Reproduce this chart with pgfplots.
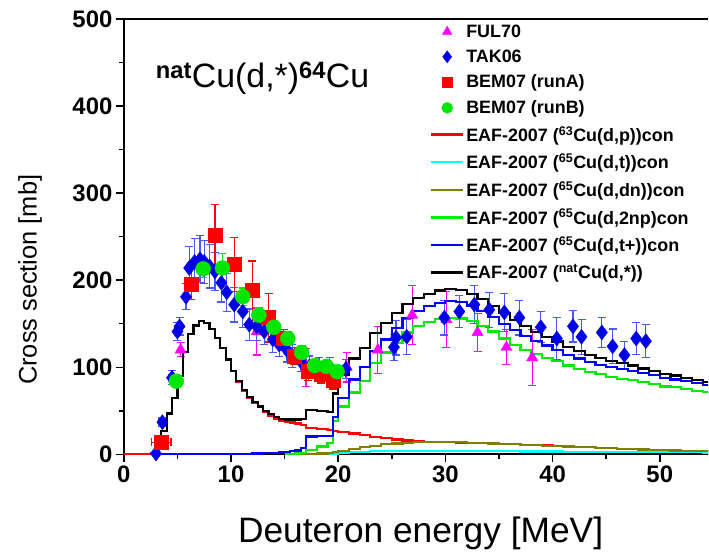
\documentclass[border=0pt]{standalone}
\usepackage{fontspec}
\setmainfont{Liberation Sans}
\usepackage{pgfplots}
\pgfplotsset{compat=1.18}

\definecolor{fulcol}{RGB}{255,0,255}
\definecolor{takcol}{RGB}{0,0,230}
\definecolor{takerr}{RGB}{70,90,255}
\definecolor{bemA}{RGB}{255,0,0}
\definecolor{bemB}{RGB}{0,230,0}
\definecolor{eafred}{RGB}{255,0,0}
\definecolor{eafcyan}{RGB}{0,255,255}
\definecolor{eafolive}{RGB}{128,128,0}
\definecolor{eafgreen}{RGB}{0,235,0}
\definecolor{eafblue}{RGB}{0,0,255}

% legend image with a smaller marker, for the data sets
\pgfplotsset{
    smallmark/.style={legend image code/.code={%
        \draw[##1, mark size=#1] plot coordinates {(16bp,0bp)};}},
}

\begin{document}
\begin{tikzpicture}
\begin{axis}[
    scale only axis,
    width=585bp, height=436bp,
    xmin=0, xmax=54.5,
    ymin=0, ymax=500,
    axis x line*=box, axis y line*=left,
    xtick={0,10,...,50}, ytick={0,100,...,500},
    minor x tick num=1, minor y tick num=1,
    xtick pos=left, ytick pos=left,
    tick align=outside,
    major tick length=8bp, minor tick length=5bp,
    every tick/.style={black, line width=1.5bp},
    axis line style={line width=2bp},
    tick label style={font=\fontsize{24}{24}\selectfont\bfseries},
    /pgf/number format/assume math mode=true,
    xlabel={Deuteron energy [MeV]},
    ylabel={Cross section [mb]},
    xlabel style={font=\fontsize{35.5}{35.5}\selectfont, at={(rel axis cs:0.508,-0.2018)}, anchor=base},
    ylabel style={font=\fontsize{25.5}{25.5}\selectfont, at={(rel axis cs:-0.1607,0.401)}, anchor=center},
    legend cell align=left,
    legend style={draw=none, fill=none, at={(rel axis cs:0.524,0.992)}, anchor=north west,
        inner sep=0pt, font=\fontsize{18}{18}\selectfont\bfseries, row sep=7.2bp},
    legend image code/.code={\draw[#1] plot coordinates {(0bp,0bp) (32bp,0bp)};},
]

% FUL70
\addplot[only marks, mark=triangle*, mark size=6.5bp, color=fulcol, smallmark=5.5bp,
    error bars/.cd, y dir=both, y explicit,
    error bar style={line width=1.2bp},
    error mark options={rotate=90, mark size=4bp, line width=1.2bp}]
coordinates {
(5.3,120) +- (0,8)
(12.4,141) +- (0,27)
(17.0,100) +- (0,22)
(20.8,100) +- (0,17)
(23.7,120) +- (0,27)
(26.9,160) +- (0,34)
(30.1,155) +- (0,32)
(33.0,140) +- (0,22)
(35.7,123) +- (0,20)
(38.1,111) +- (0,32)
};
\addlegendentry{FUL70}

% TAK06
\addplot[only marks, mark=diamond*, mark size=7.5bp, color=takcol, smallmark=6bp,
    error bars/.cd, y dir=both, y explicit, x dir=both, x explicit,
    error bar style={line width=1.2bp, color=takerr},
    error mark options={rotate=90, mark size=4bp, line width=1.2bp, color=takerr}]
coordinates {
(3.0,1) +- (0,0)
(3.6,37) +- (0.4,5)
(4.5,88) +- (0.3,8)
(5.0,141) +- (0,10)
(5.2,147) +- (0,10)
(5.8,181) +- (0,15)
(6.1,214) +- (0,25)
(6.6,221) +- (0,27)
(7.1,224) +- (0,27)
(7.5,221) +- (0,25)
(8.0,216) +- (0,25)
(8.5,210) +- (0,22)
(9.1,197) +- (0,22)
(9.6,186) +- (0,22)
(10.3,172) +- (0,20)
(11.1,164) +- (0,18)
(11.7,149) +- (0,18)
(12.4,147) +- (0,16)
(13.1,141) +- (0,15)
(13.9,132) +- (0,15)
(14.5,126) +- (0,14)
(15.2,120) +- (0,14)
(15.7,113) +- (0,13)
(16.5,107) +- (0,12)
(17.3,101) +- (0,12)
(18.2,100) +- (0,11)
(19.2,100) +- (0,11)
(20.7,98) +- (0,11)
(25.2,123) +- (0,15)
(25.4,134) +- (0,20)
(26.4,135) +- (0,20)
(29.9,157) +- (0,20)
(31.3,164) +- (0,18)
(32.7,172) +- (0,22)
(34.1,166) +- (0,20)
(35.5,163) +- (0,22)
(36.9,157) +- (0,20)
(38.9,146) +- (0,18)
(40.4,133) +- (0,24)
(41.9,147) +- (0,18)
(42.7,135) +- (0,20)
(44.6,140) +- (0,17)
(45.6,124) +- (0,20)
(46.7,114) +- (0,16)
(47.8,133) +- (0,18)
(48.7,130) +- (0,19)
};
\addlegendentry{TAK06}

% BEM07 runA
\addplot[only marks, mark=square*, mark size=7bp, color=bemA, smallmark=5bp,
    error bars/.cd, y dir=both, y explicit, x dir=both, x explicit,
    error bar style={line width=1.2bp},
    error mark options={rotate=90, mark size=4bp, line width=1.2bp}]
coordinates {
(3.5,14) +- (0.9,5)
(6.3,195) +- (0,17)
(8.5,252) +- (0,35)
(10.3,218) +- (0,31)
(12.0,188) +- (0,34)
(13.5,157) +- (0,28)
(14.9,133) +- (0,10)
(15.9,113) +- (0,10)
(17.2,95) +- (0,10)
(18.4,92) +- (0,10)
(19.5,85) +- (0,10)
};
\addlegendentry{BEM07 (runA)}

% BEM07 runB
\addplot[only marks, mark=*, mark size=7.5bp, color=bemB, smallmark=5.5bp,
    error bars/.cd, y dir=both, y explicit, x dir=both, x explicit,
    error bar style={line width=1.2bp},
    error mark options={rotate=90, mark size=4bp, line width=1.2bp}]
coordinates {
(4.9,84) +- (0.5,3)
(7.4,213) +- (0,10)
(9.2,214) +- (0,17)
(11.1,181) +- (0,10)
(12.6,160) +- (0,8)
(14.0,146) +- (0,8)
(15.3,133) +- (0,8)
(16.6,117) +- (0,8)
(17.8,102) +- (0,6)
(18.9,101) +- (0,6)
(19.9,95) +- (0,6)
};
\addlegendentry{BEM07 (runB)}

% EAF-2007 63Cu(d,p)
\addplot[const plot, no marks, color=eafred, line width=2.2bp]
coordinates {
(0,0) (2.5,1) (3.0,8) (3.5,27) (4.0,47) (4.5,65) (5.0,90) (5.5,118) (6.0,138)
(6.5,148) (7.0,153) (7.5,151) (8.0,144) (8.5,134) (9.0,122) (9.5,109)
(10.0,95.5) (10.5,83.5) (11.0,73.2) (11.5,65.2) (12.0,59) (12.5,54) (13.0,48.5)
(13.5,44.5) (14.0,41) (14.5,38.5) (15.0,37) (15.5,36.5) (16.0,35.5) (16.5,33.5)
(17,30.5) (18,29) (19,28) (19.5,27) (20,26) (21,24) (22,22) (23,20) (24,18.5)
(25,17) (26,16) (27,15) (28,14.5) (29,14.2) (30,14) (31,13.5) (32,13.2)
(33,12.8) (34,12.4) (35,12) (36,11.6) (37,11.1) (38,10.6) (39,10.1) (40,9.6)
(41,9.1) (42,8.6) (43,8.1) (44,7.6) (45,7.1) (46,6.6) (47,6.1) (48,5.6)
(49,5.1) (50,4.7) (51,4.4) (52,4) (53,3.7) (54,3.5) (55,3.5)
};
\addlegendentry{EAF-2007 (\textsuperscript{63}Cu(d,p))con}

% EAF-2007 65Cu(d,t)
\addplot[const plot, no marks, color=eafcyan, line width=2.2bp]
coordinates {
(17,0) (19,0.3) (19.5,0.8) (20,1.5) (21,2.5) (22,3) (23,3.5) (24,3.5) (25,3.5)
(26,3.5) (27,3.5) (28,3.5) (29,3.5) (30,3.5) (31,3.5) (32,3.5) (33,3.5)
(34,3.5) (35,3.4) (36,3.4) (37,3.3) (38,3.3) (39,3.2) (40,3.2) (41,3.1)
(42,3) (43,3) (44,3) (45,2.9) (46,2.8) (47,2.8) (48,2.7) (49,2.6) (50,2.5)
(51,2.5) (52,2.4) (53,2.3) (54,2.2) (55,2.2)
};
\addlegendentry{EAF-2007 (\textsuperscript{65}Cu(d,t))con}

% EAF-2007 65Cu(d,dn)
\addplot[const plot, no marks, color=eafolive, line width=2.2bp]
coordinates {
(16.5,0) (17,0.5) (18,1) (19,2) (19.5,3) (20,4) (21,6) (22,8) (23,10)
(24,11.5) (25,12.5) (26,13.5) (27,14) (28,14.5) (29,14.5) (30,14.5) (31,14)
(32,13.5) (33,13) (34,12.5) (35,12) (36,11.5) (37,11) (38,10.5) (39,10)
(40,9.5) (41,9) (42,8.5) (43,8) (44,7.5) (45,7) (46,6.5) (47,6) (48,5.5)
(49,5) (50,4.7) (51,4.4) (52,4) (53,3.7) (54,3.5) (55,3.5)
};
\addlegendentry{EAF-2007 (\textsuperscript{65}Cu(d,dn))con}

% EAF-2007 65Cu(d,2np)
\addplot[const plot, no marks, color=eafgreen, line width=2.2bp]
coordinates {
(15,0) (16,1) (16.5,2) (17,5) (18,9) (19,13) (19.5,38) (20,55) (21,71)
(22,84) (23,105) (24,117) (25,128) (26,140) (27,147) (28,152) (29,155)
(30,157) (31,156) (32,153) (33,147) (34,141) (35,133) (36,126) (37,120)
(38,115) (39,111) (40,107) (41,102) (42,98) (43,95) (44,92) (45,89) (46,87)
(47,85) (48,83) (49,81) (50,78) (51,77) (52,75) (53,73) (54,72) (55,71)
};
\addlegendentry{EAF-2007 (\textsuperscript{65}Cu(d,2np)con}

% EAF-2007 65Cu(d,t+)
\addplot[const plot, no marks, color=eafblue, line width=2.2bp]
coordinates {
(2.5,0) (10,0.5) (11,0.8) (12,1) (13,1.5) (14,2) (14.5,2.5) (15,3) (15.5,3.5)
(16,4.5) (16.5,7.5) (17,20.5) (18,21) (19,21) (19.5,43) (20,65) (21,86)
(22,100) (23,119) (24,132) (25,145) (26,157) (27,165) (28,170) (29,174)
(30,176) (31,175) (32,171) (33,165) (34,158) (35,150) (36,143) (37,136)
(38,130) (39,125) (40,120) (41,114) (42,110) (43,106) (44,103) (45,100)
(46,98) (47,96) (48,93) (49,91) (50,88) (51,86) (52,84) (53,82) (54,80) (55,79)
};
\addlegendentry{EAF-2007 (\textsuperscript{65}Cu(d,t+))con}

% EAF-2007 natCu(d,*)
\addplot[const plot, no marks, color=black, line width=2.2bp]
coordinates {
(2.5,1) (3.0,8) (3.5,27) (4.0,47) (4.5,65) (5.0,90) (5.5,118) (6.0,138)
(6.5,148) (7.0,153) (7.5,151) (8.0,144) (8.5,134) (9.0,122) (9.5,109)
(10.0,96) (10.5,84) (11.0,74) (11.5,66) (12.0,60) (12.5,55) (13.0,50)
(13.5,46) (14.0,43) (14.5,41) (15.0,40) (15.5,40) (16.0,40) (16.5,41)
(17,51) (18,50) (19,49) (19.5,70) (20,91) (21,110) (22,122) (23,139)
(24,150.5) (25,162) (26,173) (27,180) (28,184.5) (29,188.2) (30,190)
(31,188.5) (32,184) (33,178) (34,170.5) (35,162) (36,154.5) (37,147)
(38,140.5) (39,135) (40,129.5) (41,123) (42,118.5) (43,114) (44,110.5)
(45,107) (46,104.5) (47,102) (48,98.5) (49,96) (50,92.5) (51,90.5) (52,88)
(53,85.5) (54,83.5) (55,83)
};
\addlegendentry{EAF-2007 (\textsuperscript{nat}Cu(d,*))}

\node[anchor=base west, font=\fontsize{34}{34}\selectfont, inner sep=0pt]
    at (rel axis cs:0.0547,0.842)
    {\textsuperscript{\bfseries nat}Cu(d,*)\textsuperscript{\bfseries 64}Cu};
\end{axis}
\path (current axis.south west) ++(-124bp,-96bp);
\path (current axis.north east) ++(0bp,19bp);
\end{tikzpicture}
\end{document}
